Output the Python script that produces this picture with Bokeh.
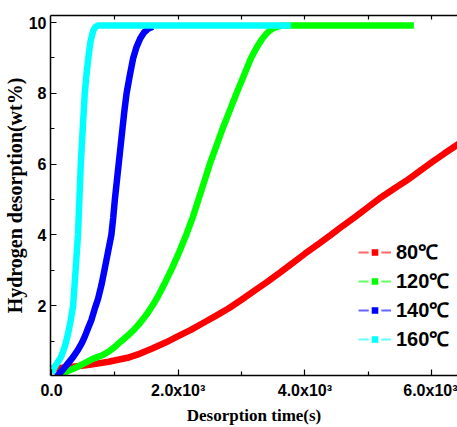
from bokeh.plotting import figure
from bokeh.models import (ColumnDataSource, FixedTicker, LinearAxis, Legend, LegendItem, Range1d)
from bokeh.embed import file_html
from bokeh.resources import INLINE

# ---- data ----
t80 = [0, 300, 600, 900, 1200, 1400, 1600, 1800, 2000, 2200, 2400, 2600, 2800, 3000, 3200, 3400, 3600,
       3800, 4000, 4200, 4400, 4600, 4800, 5000, 5200, 5400, 5600, 5800, 6000, 6200, 6450]
y80 = [0.22, 0.27, 0.33, 0.42, 0.53, 0.65, 0.8, 0.96, 1.14, 1.32, 1.52, 1.72, 1.93, 2.17, 2.42, 2.67, 2.93,
       3.2, 3.47, 3.73, 3.99, 4.26, 4.52, 4.79, 5.06, 5.3, 5.53, 5.79, 6.05, 6.3, 6.6]

t120 = [120, 250, 370, 500, 650, 800, 900, 1000, 1100, 1200, 1300, 1400, 1500, 1600, 1700, 1800, 1900,
        2000, 2126, 2230, 2320, 2410, 2498, 2600, 2700, 2810, 2920, 3035, 3150, 3240, 3330, 3410, 3480,
        3560, 3650, 5720]
y120 = [0.05, 0.15, 0.24, 0.36, 0.5, 0.6, 0.7, 0.84, 1.0, 1.15, 1.32, 1.52, 1.75, 2.02, 2.33, 2.68, 3.05,
        3.45, 4.0, 4.5, 5.0, 5.5, 6.0, 6.5, 7.0, 7.5, 8.0, 8.5, 9.0, 9.3, 9.55, 9.72, 9.82,
        9.88, 9.92, 9.92]

t140 = [80, 160, 263, 340, 420, 480, 530, 580, 630, 680, 735, 790, 835, 890, 945, 975, 1000, 1030, 1060,
        1090, 1120, 1150, 1185, 1235, 1290, 1340, 1400, 1460, 1530, 1600]
y140 = [0.0, 0.15, 0.38, 0.55, 0.76, 0.95, 1.15, 1.38, 1.6, 1.9, 2.2, 2.6, 3.0, 3.5, 4.0, 4.5, 5.0, 5.5, 6.0,
        6.5, 7.0, 7.5, 8.0, 8.5, 9.0, 9.3, 9.55, 9.72, 9.83, 9.88]

t160 = [0, 60, 150, 210, 260, 300, 341, 380, 418, 440, 462, 493, 525, 556, 588, 615, 640, 665, 690, 740, 3780]
y160 = [0.1, 0.3, 0.55, 0.85, 1.2, 1.55, 2.0, 3.0, 4.0, 5.0, 6.0, 7.0, 8.0, 8.6, 9.1, 9.45, 9.65, 9.8, 9.87,
        9.92, 9.92]

labels = ["80℃", "120℃", "140℃", "160℃"]
colors = ["#ff0000", "#00ff00", "#0000ff", "#00ffff"]

x_major = [0, 2000, 4000, 6000]
x_minor = [1000, 3000, 5000]
x_tick_labels = ["0.0", "2.0x10³", "4.0x10³", "6.0x10³"]
y_major = [2, 4, 6, 8, 10]
y_minor = [1, 3, 5, 7, 9]
top_ticks = [1000, 2000, 3000, 4000, 5000, 6000]
x_title = "Desorption time(s)"
y_title = "Hydrogen desorption(wt%)"

series = [(t80, y80), (t120, y120), (t140, y140), (t160, y160)]

p = figure(width=457, height=427, output_backend="svg", toolbar_location=None,
           x_range=Range1d(-16, 6409), y_range=Range1d(0.03, 10.2),
           min_border_left=49, min_border_right=0, min_border_top=15, min_border_bottom=51)
p.outline_line_color = None
p.xgrid.visible = False
p.ygrid.visible = False

for (tx, ty), c in zip(series, colors):
    p.line(tx, ty, line_color=c, line_width=6.5)

tick_font = "Liberation Sans"

def style_axis(ax):
    ax.axis_line_width = 1.5
    ax.axis_line_color = "black"
    ax.major_tick_in = 6
    ax.major_tick_out = 0
    ax.minor_tick_in = 4
    ax.minor_tick_out = 0
    ax.major_tick_line_width = 1.2
    ax.minor_tick_line_width = 1.2
    ax.major_label_text_font = tick_font
    ax.major_label_text_font_style = "bold"
    ax.major_label_text_font_size = "16px"
    ax.major_label_text_color = "black"
    ax.axis_label_text_color = "black"

xa = p.xaxis[0]
xa.ticker = FixedTicker(ticks=x_major, minor_ticks=x_minor)
xa.major_label_overrides = {k: v for k, v in zip(x_major, x_tick_labels)}
style_axis(xa)
xa.major_label_standoff = 6
xa.axis_label = x_title
xa.axis_label_text_font = "Liberation Serif"
xa.axis_label_text_font_style = "bold"
xa.axis_label_text_font_size = "17px"
xa.axis_label_standoff = 4

ya = p.yaxis[0]
ya.ticker = FixedTicker(ticks=y_major, minor_ticks=y_minor)
style_axis(ya)
ya.major_label_standoff = 4
ya.axis_label = y_title
ya.axis_label_text_font = "Liberation Serif"
ya.axis_label_text_font_style = "bold"
ya.axis_label_text_font_size = "20px"
ya.axis_label_standoff = 0

top = LinearAxis(ticker=FixedTicker(ticks=[], minor_ticks=top_ticks))
style_axis(top)
top.minor_tick_in = 4
top.major_label_standoff = 0
p.add_layout(top, "above")

# legend-only renderers (NaN data: nothing drawn in the plot area)
nan = float("nan")
items = []
for lab, c in zip(labels, colors):
    lr = p.line(x="x", y="y", source=ColumnDataSource(dict(x=[nan], y=[nan])),
                line_color=c, line_width=2, line_alpha=0.6)
    sr = p.scatter(x="x", y="y", source=ColumnDataSource(dict(x=[nan], y=[nan])), marker="square",
                   size=10, fill_color=c, line_color="white", line_width=3)
    items.append(LegendItem(label=lab, renderers=[lr, sr]))

legend = Legend(items=items, location=(308, 23), orientation="vertical",
                glyph_width=33, glyph_height=24, label_height=24, spacing=2,
                label_standoff=5, padding=0, margin=0,
                border_line_color=None, background_fill_alpha=0,
                label_text_font=tick_font, label_text_font_style="bold",
                label_text_font_size="20px", label_text_color="black")
p.add_layout(legend, "center")

open("out.html", "w").write(file_html(p, INLINE))
